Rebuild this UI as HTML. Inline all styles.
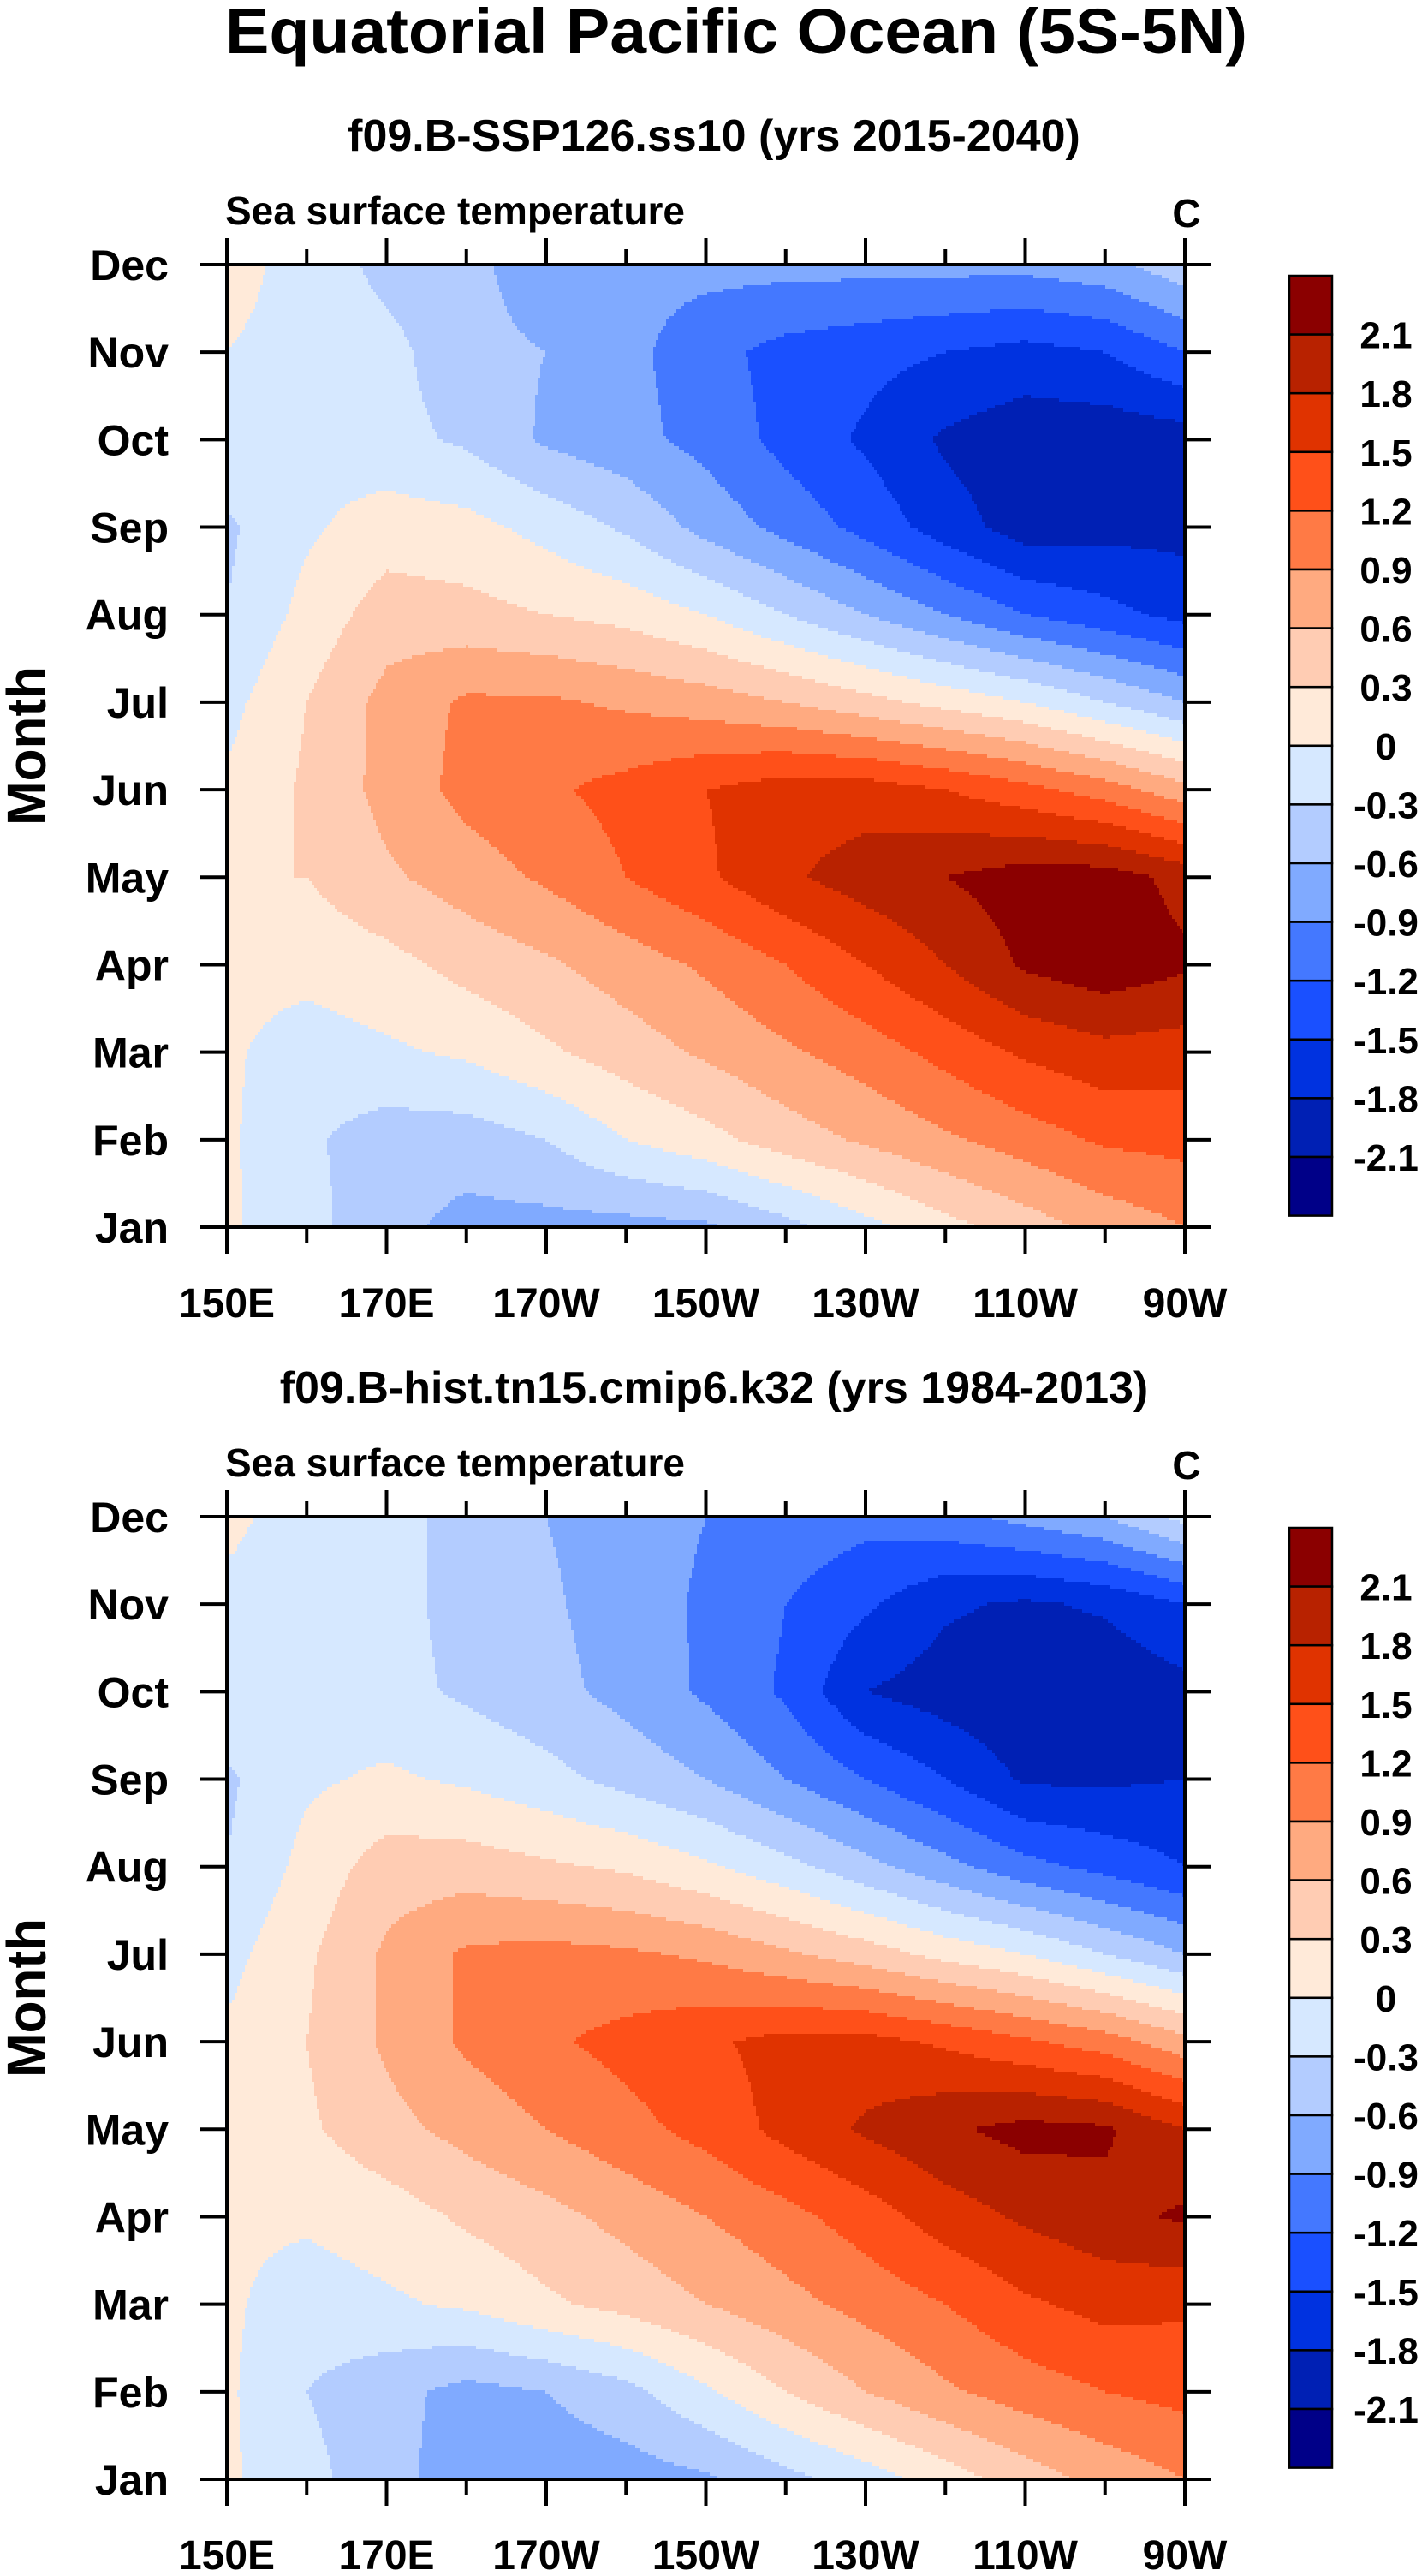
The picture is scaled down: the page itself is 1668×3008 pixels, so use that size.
<!DOCTYPE html>
<html><head><meta charset="utf-8">
<style>
html,body{margin:0;padding:0;background:#fff;}
svg{display:block;font-family:"Liberation Sans",Arial,sans-serif;font-weight:bold;}
</style></head>
<body>
<svg id="fig" width="1668" height="3008" viewBox="0 0 1668 3008" xmlns="http://www.w3.org/2000/svg">
<text x="860" y="62" font-size="74" text-anchor="middle" textLength="1194" lengthAdjust="spacingAndGlyphs">Equatorial Pacific Ocean (5S-5N)</text>
</svg>
<script>
// ---- data ----
const lons = [150,160,170,180,190,200,210,220,230,240,250,260,270];
const months = ["Jan","Feb","Mar","Apr","May","Jun","Jul","Aug","Sep","Oct","Nov","Dec"];
const xTickLons = [150,170,190,210,230,250,270];
const xTickLabels = ["150E","170E","170W","150W","130W","110W","90W"];
const levels = [-2.1,-1.8,-1.5,-1.2,-0.9,-0.6,-0.3,0,0.3,0.6,0.9,1.2,1.5,1.8,2.1];
const levelLabels = ["-2.1","-1.8","-1.5","-1.2","-0.9","-0.6","-0.3","0","0.3","0.6","0.9","1.2","1.5","1.8","2.1"];
const colors = ["#000088","#0020b4","#0032e0","#1a50ff","#4478ff","#80aaff","#b3ccff","#d6e8ff","#ffead9","#ffccb3","#ffaa80","#ff7a45","#ff5019","#e03300","#b82200","#8b0000"];
// rows Jan..Dec, columns = lons
const sstA = [
[0.05,-0.2,-0.5,-0.7,-0.7,-0.7,-0.65,-0.4,-0.1,0.2,0.45,0.7,0.9],
[0.05,-0.25,-0.45,-0.45,-0.3,0.0,0.2,0.45,0.65,0.85,1.05,1.25,1.3],
[0.05,-0.15,-0.05,0.05,0.25,0.45,0.65,0.85,1.05,1.3,1.55,1.7,1.65],
[0.1,0.1,0.2,0.4,0.55,0.75,0.95,1.2,1.5,1.8,2.15,2.3,2.15],
[0.3,0.3,0.55,0.75,0.95,1.2,1.45,1.75,1.95,2.1,2.25,2.25,2.0],
[0.05,0.35,0.7,1.0,1.15,1.3,1.5,1.65,1.65,1.5,1.3,1.05,0.7],
[-0.1,0.3,0.7,0.95,0.95,0.85,0.75,0.6,0.4,0.2,0.0,-0.3,-0.6],
[-0.3,0.1,0.45,0.4,0.3,0.2,0.0,-0.3,-0.6,-0.9,-1.2,-1.4,-1.6],
[-0.35,-0.05,0.15,0.1,-0.1,-0.35,-0.7,-1.0,-1.3,-1.65,-1.95,-1.9,-1.9],
[-0.1,-0.1,-0.2,-0.35,-0.65,-0.8,-1.0,-1.3,-1.55,-1.85,-2.0,-2.0,-1.95],
[0.0,-0.1,-0.2,-0.5,-0.6,-0.8,-1.1,-1.3,-1.4,-1.5,-1.6,-1.5,-1.2],
[0.1,-0.1,-0.4,-0.5,-0.8,-0.8,-0.8,-0.8,-0.8,-0.8,-0.8,-0.7,-0.4]
];
const sstB = [
[0.05,-0.2,-0.5,-0.75,-0.8,-0.75,-0.65,-0.4,-0.15,0.15,0.45,0.7,0.9],
[0.05,-0.3,-0.5,-0.7,-0.6,-0.4,-0.05,0.3,0.6,0.85,1.05,1.2,1.3],
[0.05,-0.15,-0.05,0.05,0.25,0.4,0.6,0.8,1.0,1.2,1.45,1.6,1.55],
[0.05,0.05,0.15,0.35,0.5,0.7,0.9,1.1,1.35,1.65,1.85,2.0,2.15],
[0.1,0.25,0.5,0.7,0.9,1.1,1.3,1.6,1.85,2.05,2.2,2.15,1.8],
[0.05,0.3,0.65,0.95,1.15,1.3,1.45,1.6,1.6,1.45,1.25,1.05,0.7],
[-0.1,0.25,0.65,0.95,1.0,0.95,0.85,0.65,0.45,0.2,0.0,-0.3,-0.6],
[-0.3,0.1,0.45,0.45,0.35,0.25,0.05,-0.2,-0.5,-0.8,-1.1,-1.3,-1.5],
[-0.35,-0.05,0.05,-0.05,-0.2,-0.4,-0.6,-0.9,-1.2,-1.5,-1.85,-1.85,-1.8],
[-0.1,-0.1,-0.2,-0.35,-0.5,-0.7,-0.95,-1.25,-1.8,-1.95,-2.05,-2.05,-1.9],
[-0.05,-0.1,-0.2,-0.4,-0.55,-0.75,-0.95,-1.2,-1.45,-1.75,-1.85,-1.75,-1.5],
[0.05,-0.1,-0.2,-0.4,-0.6,-0.75,-0.9,-1.0,-1.1,-1.0,-0.8,-0.6,-0.2]
];
const subtitles = ["f09.B-SSP126.ss10 (yrs 2015-2040)","f09.B-hist.tn15.cmip6.k32 (yrs 1984-2013)"];

const NS="http://www.w3.org/2000/svg";
const svg=document.getElementById('fig');
function mk(tag,attrs,parent){const e=document.createElementNS(NS,tag);for(const k in attrs)e.setAttribute(k,attrs[k]);(parent||svg).appendChild(e);return e;}
const L=265,R=1384,PH=1124;
function colorFor(v){let i=0;while(i<levels.length&&v>=levels[i])i++;return colors[i];}
function sample(data,lon,m){
  let fx=(lon-lons[0])/(lons[1]-lons[0]);let i=Math.min(Math.floor(fx),lons.length-2);let tx=fx-i;
  let j=Math.min(Math.floor(m),months.length-2);let ty=m-j;
  const a=data[j][i],b=data[j][i+1],c=data[j+1][i],d=data[j+1][i+1];
  return (a*(1-tx)+b*tx)*(1-ty)+(c*(1-tx)+d*tx)*ty;
}
function drawPanel(data,off,idx){
  const T=309+off,B=T+PH;
  const xS=lon=>L+(lon-150)/(270-150)*(R-L);
  const yS=m=>B-m/11*(B-T);
  const g=mk('g',{});
  
  
  const st=mk('text',{x:834,y:176+off,'font-size':52,'text-anchor':'middle'},g);
  st.textContent=subtitles[idx];
  
  
  const ls=mk('text',{x:263,y:262+off,'font-size':46},g);ls.textContent="Sea surface temperature";
  
  
  const un=mk('text',{x:1386,y:265+off,'font-size':46,'text-anchor':'middle'},g);un.textContent="C";
  
  
  const fg=mk('g',{'shape-rendering':'crispEdges'},g);
  
  
  const dy=4,dx=3;
  for(let y=T;y<B;y+=dy){
    const m=(B-(y+dy/2))/(B-T)*11;
    let runStart=L,runCol=null;
    for(let x=L;x<=R;x+=dx){
      let col=null;
      if(x<R){const lon=150+(x+dx/2-L)/(R-L)*120;col=colorFor(sample(data,lon,Math.max(0,Math.min(11,m))));}
      if(col!==runCol){
        if(runCol!==null){const r=mk('rect',{x:runStart,y:y,width:Math.min(x,R)-runStart+0.6,height:dy+0.6,fill:runCol},fg);
          
          }
        runStart=x;runCol=col;
      }
    }
  }
  const fr=mk('rect',{x:L,y:T,width:R-L,height:B-T,fill:'none',stroke:'#000','stroke-width':4},g);
  
  
  for(let lon=150;lon<=270;lon+=10){
    const major=(lon-150)%20===0,len=major?31:18,x=xS(lon);
    mk('line',{x1:x,y1:T,x2:x,y2:T-len,stroke:'#000','stroke-width':4},g);
    mk('line',{x1:x,y1:B,x2:x,y2:B+len,stroke:'#000','stroke-width':4},g);
  }
  xTickLons.forEach((lon,k)=>{
    const t=mk('text',{x:xS(lon),y:1538+off,'font-size':48,'text-anchor':'middle'},g);t.textContent=xTickLabels[k];
    
    
  });
  months.forEach((mn,k)=>{
    const y=yS(k);
    mk('line',{x1:L,y1:y,x2:L-31,y2:y,stroke:'#000','stroke-width':4},g);
    mk('line',{x1:R,y1:y,x2:R+31,y2:y,stroke:'#000','stroke-width':4},g);
    const t=mk('text',{x:197,y:y+18,'font-size':50,'text-anchor':'end'},g);t.textContent=mn;
    
    
  });
  const yt=mk('text',{x:0,y:0,'font-size':64,'text-anchor':'middle',transform:`translate(53,${(T+B)/2}) rotate(-90)`,textLength:186,lengthAdjust:'spacingAndGlyphs'},g);
  yt.textContent="Month";
  
  
  const cb=mk('g',{},g);
  
  
  const cT=322+off,cH=68.6,cX=1506,cW=50;
  colors.slice().reverse().forEach((c,k)=>{
    const r=mk('rect',{x:cX,y:cT+k*cH,width:cW,height:cH,fill:c,stroke:'#000','stroke-width':2.5},cb);
    
    
  });
  levelLabels.slice().reverse().forEach((lb,k)=>{
    const t=mk('text',{x:1619,y:cT+(k+1)*cH+16,'font-size':44,'text-anchor':'middle'},cb);t.textContent=lb;
    
    
  });
}
drawPanel(sstA,0,0);
drawPanel(sstB,1462,1);
</script>
</body></html>
